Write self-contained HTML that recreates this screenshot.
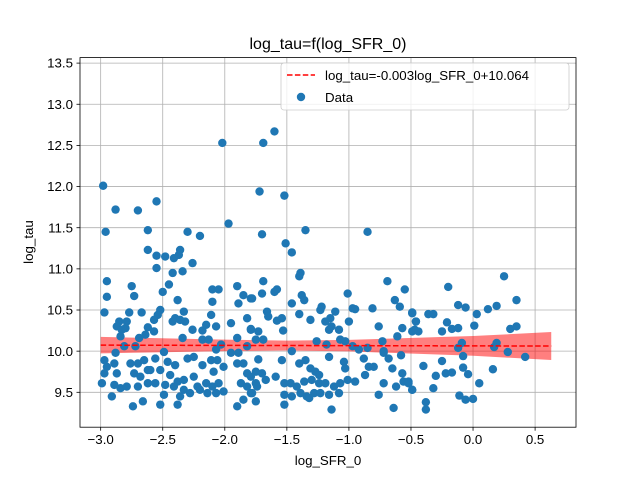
<!DOCTYPE html>
<html><head><meta charset="utf-8"><style>
body{margin:0;background:#fff;}
svg{display:block;font-family:"Liberation Sans","DejaVu Sans",sans-serif;}
</style></head><body>
<svg id="chart" width="640" height="480">
</svg>
<script>
const xs = [-2.98,-2.96,-2.88,-2.7,-2.55,-2.62,-2.3,-2.2,-2.02,-1.97,-1.72,-1.69,-1.6,-1.52,-1.7,-1.35,-0.85,
-2.62,-2.55,-2.48,-2.41,-2.36,-2.37,-2.26,-2.55,-2.42,-2.34,-2.45,-2.50,-2.95,-2.95,-2.75,-2.73,-2.10,-2.05,-2.10,-1.90,-1.85,-1.89,-1.79,-2.38,
-2.97,-2.77,-2.67,-2.52,-2.54,-2.33,-2.40,-2.32,-2.36,-2.85,-2.79,-2.87,-2.83,-2.80,-2.84,-2.62,-2.57,-2.64,-2.57,-2.42,-2.34,-2.26,-2.18,-2.15,-2.11,-2.07,-1.95,-1.82,-1.79,-1.90,-2.69,-2.18,-2.13,-2.03,-2.07,-1.95,-1.89,-1.82,-2.81,-2.72,
-2.97,-2.95,-2.88,-2.89,-2.87,-2.97,-2.99,-2.89,-2.76,-2.70,-2.65,-2.56,-2.49,-2.60,-2.52,-2.46,-2.40,-2.30,-2.25,-2.18,-2.11,-2.09,-2.06,-2.01,-1.90,-1.85,-1.82,-2.73,-2.68,-2.62,-2.44,-2.38,-2.33,-2.25,-2.22,-2.15,-2.10,-2.05,-2.01,
-2.84,-2.79,-2.70,-2.62,-2.56,-2.48,-2.41,-2.33,-2.28,-2.20,-2.14,-2.07,-1.87,-1.82,-1.79,-2.91,-2.74,-2.66,-2.52,-2.49,-2.38,-2.36,-1.90,-1.85,
-1.51,-1.46,-1.39,-1.40,-1.69,-1.70,-1.78,-1.60,-1.58,-1.46,-1.38,-1.36,-1.40,-1.66,-1.65,-1.58,-1.54,-1.53,-1.79,-1.73,-1.69,-1.75,-1.31,-1.22,-1.23,-1.11,-1.15,-1.19,-1.14,-1.16,-1.08,-1.01,-0.97,-0.95,-1.00,-0.81,-0.76,-0.69,-0.55,-0.63,-0.59,-0.61,-0.57,-0.49,-0.46,-0.49,
-1.26,-1.18,-1.07,-1.03,-0.97,-0.92,-0.85,-0.73,-0.72,-1.46,-1.73,-1.54,-1.40,-1.35,-1.31,-1.27,-1.24,-1.16,-1.04,-1.03,-0.88,-0.84,-0.87,-0.80,-0.72,-0.68,-0.65,-0.58,-0.57,
-1.75,-1.70,-1.79,-1.59,-1.67,-1.75,-1.74,-1.78,-1.75,-1.52,-1.47,-1.42,-1.36,-1.30,-1.24,-1.19,-1.12,-1.07,-1.01,-0.95,-1.52,-1.46,-1.39,-1.34,-1.28,-1.23,-1.16,-1.08,-0.72,-0.62,-0.56,-0.52,-0.49,-0.76,-1.52,-1.32,-1.14,-0.64,
-0.20,0.25,0.35,-0.12,-0.06,0.03,0.12,0.19,-0.49,-0.36,-0.32,-0.46,-0.47,-0.44,-0.21,-0.17,-0.12,-0.25,0.01,0.30,0.35,-0.09,-0.12,-0.08,0.19,0.17,0.28,0.42,-0.40,-0.25,-0.22,-0.17,-0.30,-0.08,-0.04,0.16,0.05,-0.52,-0.49,-0.32,-0.38,-0.38,-0.11,-0.06,0.00];
const ys = [12.01,11.45,11.72,11.71,11.82,11.47,11.45,11.4,12.53,11.55,11.94,12.53,12.67,11.89,11.42,11.47,11.45,
11.23,11.16,11.15,11.13,11.23,11.17,11.07,11.01,10.95,10.97,10.81,10.72,10.85,10.66,10.79,10.67,10.75,10.75,10.60,10.79,10.68,10.58,10.64,10.62,
10.47,10.47,10.47,10.50,10.44,10.48,10.40,10.36,10.38,10.36,10.36,10.30,10.26,10.28,10.18,10.29,10.38,10.20,10.24,10.36,10.16,10.26,10.25,10.32,10.44,10.30,10.34,10.40,10.26,10.16,10.16,10.14,10.14,10.08,10.02,9.98,9.98,10.06,10.06,10.06,
9.89,9.81,9.98,9.85,9.73,9.73,9.61,9.59,9.85,9.85,9.89,9.91,9.99,9.77,9.77,9.87,9.83,9.91,9.93,9.83,9.89,9.75,9.89,9.81,9.85,9.85,9.73,9.73,9.69,9.77,9.71,9.63,9.65,9.69,9.57,9.61,9.57,9.61,9.51,
9.55,9.57,9.57,9.61,9.61,9.59,9.57,9.53,9.49,9.53,9.49,9.49,9.61,9.57,9.49,9.45,9.33,9.39,9.35,9.47,9.35,9.45,9.33,9.41,
11.31,11.20,10.95,10.91,10.85,10.70,10.64,10.72,10.75,10.58,10.68,10.62,10.45,10.48,10.42,10.37,10.40,10.25,10.27,10.24,10.14,10.14,10.38,10.54,10.50,10.48,10.40,10.36,10.30,10.26,10.26,10.70,10.52,10.51,10.36,10.52,10.30,10.85,10.75,10.62,10.54,10.18,10.28,10.46,10.36,10.24,
10.12,10.08,10.14,10.12,10.06,10.02,10.04,10.12,10.00,10.00,9.90,9.89,9.85,9.89,9.79,9.75,9.71,9.93,9.87,9.79,9.91,9.81,9.71,9.81,9.98,9.91,9.79,9.95,9.73,
9.75,9.73,9.69,9.69,9.65,9.61,9.57,9.49,9.39,9.61,9.61,9.57,9.63,9.65,9.61,9.61,9.57,9.61,9.65,9.63,9.47,9.45,9.49,9.45,9.49,9.49,9.47,9.49,9.61,9.57,9.63,9.63,9.53,9.47,9.35,9.43,9.29,9.31,
10.78,10.91,10.62,10.56,10.53,10.45,10.51,10.55,10.47,10.45,10.45,10.36,10.26,10.24,10.35,10.27,10.28,10.24,10.31,10.27,10.30,10.10,10.04,9.94,10.10,10.05,9.99,9.93,9.82,9.88,9.73,9.74,9.70,9.80,9.72,9.78,9.61,9.61,9.53,9.55,9.38,9.29,9.46,9.41,9.42];
const xTicks = [-3.0,-2.5,-2.0,-1.5,-1.0,-0.5,0.0,0.5];
const yTicks = [9.5,10.0,10.5,11.0,11.5,12.0,12.5,13.0,13.5];
const slope = [-0.003];
const intercept = [10.064];
const bandX = [-3.0,-2.0,-1.5,-1.0,0.0,0.63];
const bandHalf = [0.10,0.07,0.06,0.07,0.12,0.17];

const L=80,R=576,T=57.6,B=427.2;
const xMin=-3.1665,xMax=0.8295,yMin=9.076,yMax=13.567;
function sx(v){return L+(v-xMin)/(xMax-xMin)*(R-L);}
function sy(v){return B-(v-yMin)/(yMax-yMin)*(B-T);}
const NS="http://www.w3.org/2000/svg";
const svg=document.getElementById('chart');
function mk(tag,attrs,parent){const e=document.createElementNS(NS,tag);for(const k in attrs)e.setAttribute(k,attrs[k]);(parent||svg).appendChild(e);return e;}

const grid=mk('g',{});


xTicks.forEach(t=>{const l=mk('line',{x1:sx(t),x2:sx(t),y1:T,y2:B,stroke:'#b0b0b0','stroke-width':0.8},grid);

});
yTicks.forEach(t=>{const l=mk('line',{x1:L,x2:R,y1:sy(t),y2:sy(t),stroke:'#b0b0b0','stroke-width':0.8},grid);

});

let up=[],dn=[];
bandX.forEach((x,i)=>{const c=intercept[0]+slope[0]*x;up.push(sx(x)+','+sy(c+bandHalf[i]));dn.unshift(sx(x)+','+sy(c-bandHalf[i]));});
const band=mk('polygon',{points:up.concat(dn).join(' '),fill:'#ff0000','fill-opacity':0.5});



const pts=mk('g',{fill:'#1f77b4'});


xs.forEach((x,i)=>{const c=mk('circle',{cx:sx(x),cy:sy(ys[i]),r:4.2},pts);

});

const x0=bandX[0],x1=bandX[bandX.length-1];
const fit=mk('line',{x1:sx(x0),y1:sy(intercept[0]+slope[0]*x0),x2:sx(x1),y2:sy(intercept[0]+slope[0]*x1),stroke:'#ff0000','stroke-width':1.5,'stroke-dasharray':'5.5,2.4'});



const frame=mk('rect',{x:L,y:T,width:R-L,height:B-T,fill:'none',stroke:'#000','stroke-width':0.8});



xTicks.forEach(t=>{mk('line',{x1:sx(t),x2:sx(t),y1:B,y2:B+3.5,stroke:'#000','stroke-width':0.8});
const tx=mk('text',{x:sx(t),y:B+17,'font-size':'13.3','text-anchor':'middle',fill:'#000'});
tx.textContent=t.toFixed(1).replace('-','\u2212');

});
yTicks.forEach(t=>{mk('line',{x1:L-3.5,x2:L,y1:sy(t),y2:sy(t),stroke:'#000','stroke-width':0.8});
const tx=mk('text',{x:L-7,y:sy(t)+4.6,'font-size':'13.3','text-anchor':'end',fill:'#000'});
tx.textContent=t.toFixed(1);

});

const title=mk('text',{x:328,y:49,'font-size':'16','text-anchor':'middle'});title.textContent='log_tau=f(log_SFR_0)';


const xl=mk('text',{x:328,y:465,'font-size':'13.3','text-anchor':'middle'});xl.textContent='log_SFR_0';


const yl=mk('text',{x:0,y:0,'font-size':'13.3','text-anchor':'middle',transform:'translate(33,242) rotate(-90)'});yl.textContent='log_tau';



const lg=mk('g',{});


mk('rect',{x:281,y:63,width:288,height:47,rx:3,fill:'#fff','fill-opacity':0.8,stroke:'#ccc','stroke-width':0.8},lg);
mk('line',{x1:287,x2:315,y1:75,y2:75,stroke:'#ff0000','stroke-width':1.5,'stroke-dasharray':'5.5,2.4'},lg);
const t1=mk('text',{x:325,y:80,'font-size':'13.3'},lg);t1.textContent='log_tau=-0.003log_SFR_0+10.064';


mk('circle',{cx:301,cy:97,r:4.2,fill:'#1f77b4'},lg);
const t2=mk('text',{x:325,y:102,'font-size':'13.3'},lg);t2.textContent='Data';


</script>
</body></html>
